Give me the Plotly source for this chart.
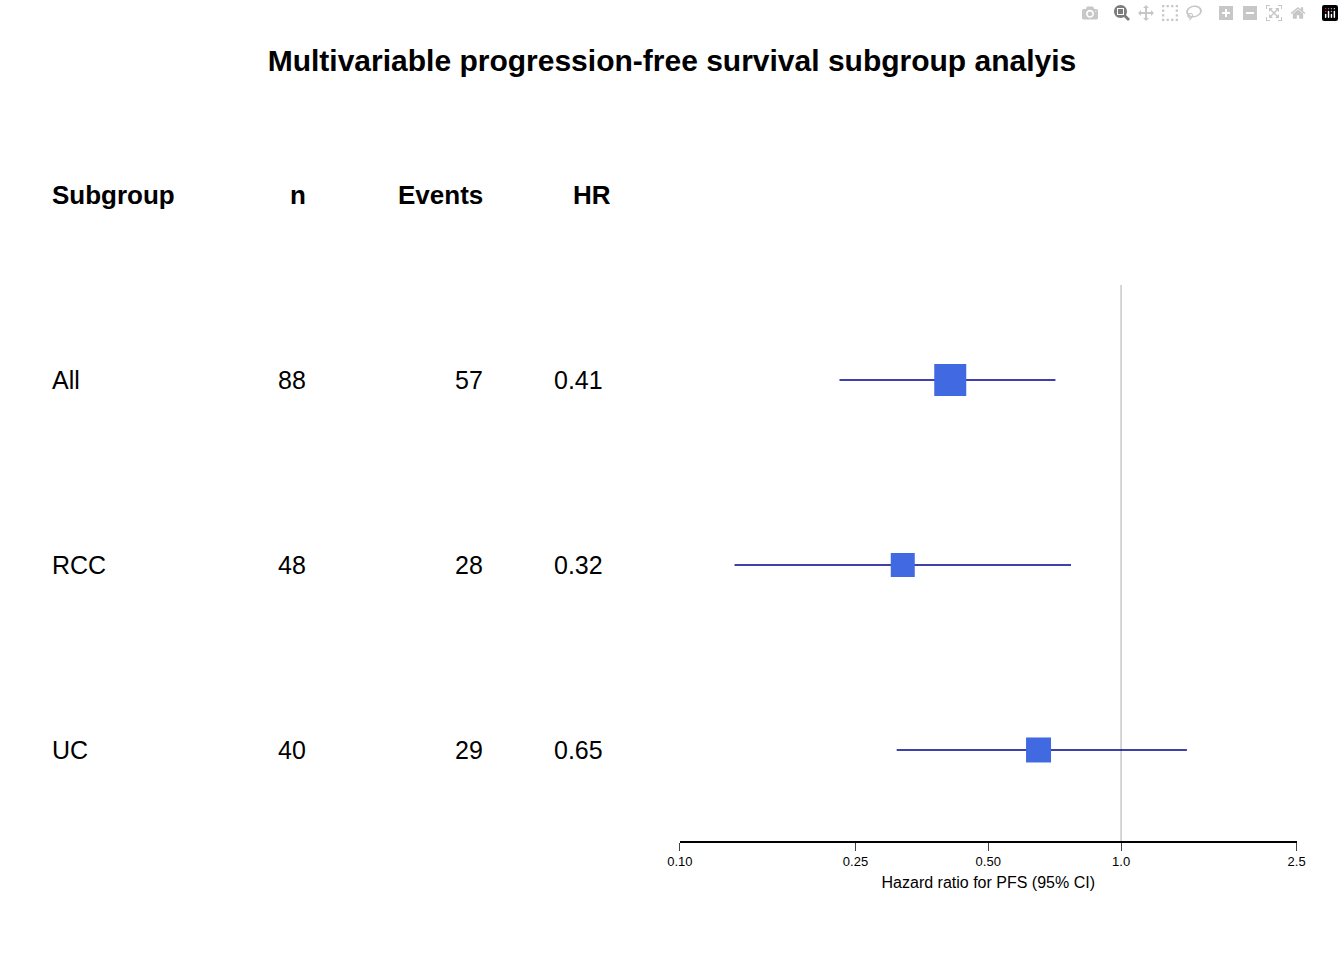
import plotly.graph_objects as go

subgroups = ["All", "RCC", "UC"]
n_vals = [88, 48, 40]
events = [57, 28, 29]
hr = [0.41, 0.32, 0.65]
lo = [0.23, 0.133, 0.31]
hi = [0.71, 0.77, 1.41]
sizes = [32, 24, 25]
rows = [3, 2, 1]
ticks = [0.10, 0.25, 0.50, 1.0, 2.5]
tick_text = ["0.10", "0.25", "0.50", "1.0", "2.5"]

W = 1344
fig = go.Figure()
for i in range(len(subgroups)):
    fig.add_trace(go.Scatter(x=[lo[i], hi[i]], y=[rows[i], rows[i]], mode="lines",
                             line=dict(color="#00008B", width=1.5), showlegend=False))
fig.add_trace(go.Scatter(x=hr, y=rows, mode="markers", showlegend=False,
                         marker=dict(symbol="square", size=sizes, color="#4169E1", opacity=1,
                                     line=dict(width=0))))

fig.add_shape(type="line", x0=1, x1=1, y0=0.508, y1=3.514, xref="x", yref="y",
              line=dict(color="#c8c8c8", width=1.5), layer="below")

font = dict(family="Liberation Sans, Arial", size=25, color="black")
hdr = [("Subgroup", 38, "left"), ("n", 300, "right"), ("Events", 480, "right"), ("HR", 610, "right")]
for txt, px, al in hdr:
    fig.add_annotation(x=px / W, y=4.0, xref="paper", yref="y", text="<b>%s</b>" % txt,
                       showarrow=False, xanchor=al, font=dict(font, size=26))
for i in range(len(subgroups)):
    cols = [(subgroups[i], 38, "left"), (str(n_vals[i]), 300, "right"),
            (str(events[i]), 480, "right"), ("%.2f" % hr[i], 548, "left")]
    for txt, px, al in cols:
        fig.add_annotation(x=px / W, y=rows[i], xref="paper", yref="y", text=txt,
                           showarrow=False, xanchor=al, font=font)

fig.update_layout(
    width=1344, height=960, plot_bgcolor="white", paper_bgcolor="white",
    margin=dict(l=0, r=0, t=0, b=119),
    title=dict(text="<b>Multivariable progression-free survival subgroup analyis</b>",
               x=0.5, xanchor="center", y=1 - 60 / 960, yanchor="middle",
               font=dict(family="Liberation Sans, Arial", size=30, color="black")),
    xaxis=dict(type="log", range=[-1, 0.39794], domain=[678 / W, 1305 / W],
               tickvals=ticks, ticktext=tick_text, ticks="outside", ticklen=8,
               showline=True, linecolor="black", linewidth=1.5, showgrid=False, zeroline=False,
               tickfont=dict(family="Liberation Sans, Arial", size=13, color="black"),
               title=dict(text="Hazard ratio for PFS (95% CI)", standoff=8,
                          font=dict(family="Liberation Sans, Arial", size=16, color="black"))),
    yaxis=dict(range=[0.508, 5.054], visible=False),
)
fig.write_html("out.html", post_script="document.body.style.margin='0';document.body.style.overflow='hidden';")
